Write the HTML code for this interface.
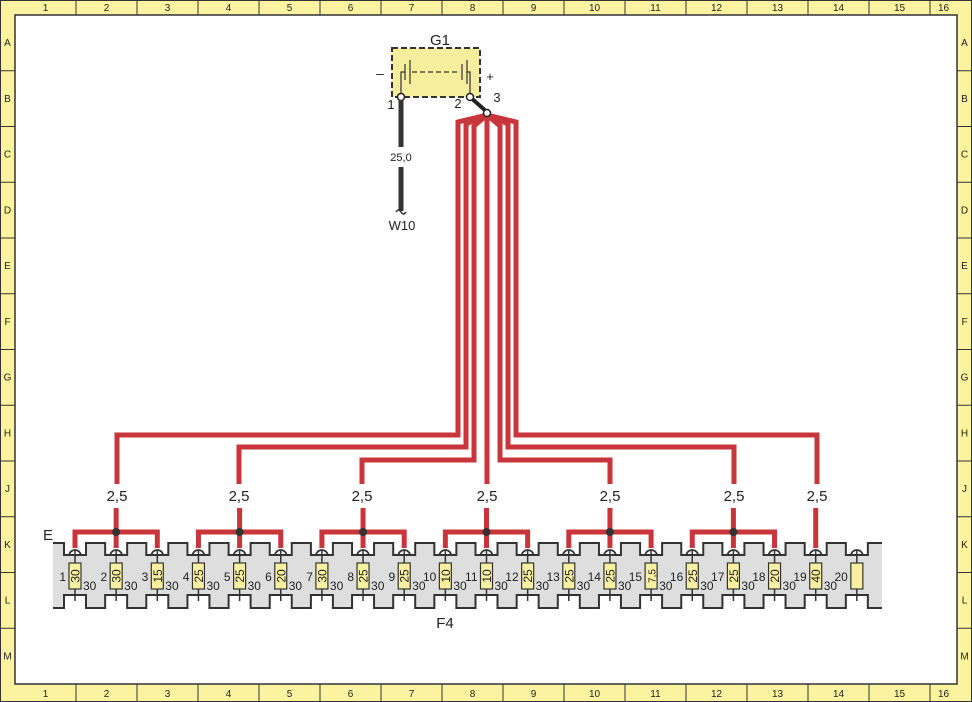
<!DOCTYPE html>
<html><head><meta charset="utf-8"><style>
html,body{margin:0;padding:0;background:#fff}
svg{display:block}
text{font-family:"Liberation Sans",sans-serif;fill:#222}
</style></head><body>
<svg id="s" width="972" height="702" viewBox="0 0 972 702" xmlns="http://www.w3.org/2000/svg">
<rect x="0.5" y="0.5" width="971" height="701" fill="#fbf3a0" stroke="#333"/>
<rect x="15" y="15" width="942" height="669" fill="#fff" stroke="#333" stroke-width="1.5"/>
<g id="frame"></g>
<rect x="392" y="48" width="88" height="49" fill="#f6ee9c" stroke="#333" stroke-width="2" stroke-dasharray="6,3"/>
<text x="440" y="45" font-size="15" text-anchor="middle">G1</text>
<text x="380" y="78" font-size="14" text-anchor="middle">–</text>
<text x="490" y="81" font-size="13" text-anchor="middle">+</text>
<g stroke="#333" stroke-width="1.2" fill="none">
<path d="M401 96 V72 H405 M405 64 V80 M410 60 V84 M462 64 V80"/>
<path d="M467 60 V84 M467 72 H470 V96"/>
</g>
<line x1="412" y1="72" x2="460" y2="72" stroke="#333" stroke-width="1.2" stroke-dasharray="5,3"/>
<g id="wires" stroke="#c8353b" stroke-width="5" fill="none" stroke-linejoin="miter"></g>
<line x1="470" y1="97" x2="487" y2="112" stroke="#222" stroke-width="4"/>
<circle cx="401" cy="97" r="3.5" fill="#fff" stroke="#222" stroke-width="1.5"/>
<circle cx="470" cy="97" r="3.5" fill="#fff" stroke="#222" stroke-width="1.5"/>
<circle cx="487" cy="113" r="3.5" fill="#fff" stroke="#222" stroke-width="1.5"/>
<text x="391" y="109" font-size="13" text-anchor="middle">1</text>
<text x="458" y="108" font-size="13" text-anchor="middle">2</text>
<text x="497" y="102" font-size="13" text-anchor="middle">3</text>
<path d="M401 100 V147 M401 167 V211" stroke="#333" stroke-width="5"/>
<path d="M396 212 q2.5 -4 5 0 q2.5 4 5 0" stroke="#333" stroke-width="1.5" fill="none"/>
<text x="401" y="161" font-size="11" text-anchor="middle">25,0</text>
<text x="402" y="230" font-size="13" text-anchor="middle">W10</text>
<g id="fb"></g>
<text x="48" y="540" font-size="15" text-anchor="middle">E</text>
<text x="445" y="628" font-size="15" text-anchor="middle">F4</text>
</svg>
<script>
var NS="http://www.w3.org/2000/svg";
function el(p,t,a,txt){var e=document.createElementNS(NS,t);for(var k in a)e.setAttribute(k,a[k]);if(txt!==undefined)e.textContent=txt;p.appendChild(e);return e;}
var fr=document.getElementById('frame');
for(var k=0;k<16;k++){var x=15+k*61;
 if(k>0){el(fr,'line',{x1:x,y1:0,x2:x,y2:15,stroke:'#333'});el(fr,'line',{x1:x,y1:684,x2:x,y2:702,stroke:'#333'});}
 var cx=k<15?x+30.5:(x+957)/2;
 el(fr,'text',{x:cx,y:11,'font-size':10,'text-anchor':'middle'},k+1);
 el(fr,'text',{x:cx,y:697,'font-size':10,'text-anchor':'middle'},k+1);}
var rows="ABCDEFGHJKLM";
for(var r=0;r<12;r++){var y=15+r*55.75;
 if(r>0){el(fr,'line',{x1:0,y1:y,x2:15,y2:y,stroke:'#333'});el(fr,'line',{x1:957,y1:y,x2:972,y2:y,stroke:'#333'});}
 el(fr,'text',{x:7.5,y:y+31,'font-size':10,'text-anchor':'middle'},rows[r]);
 el(fr,'text',{x:964.5,y:y+31,'font-size':10,'text-anchor':'middle'},rows[r]);}
var w=document.getElementById('wires');
var W=[[458,435,117,122],[466,447,239,124],[474,460,362,126],[487,484,487,128],[500,460,610,126],[508,447,734,124],[516,435,817,122]];
W.forEach(function(a){var xs=a[0],yh=a[1],xt=a[2],yt=a[3];
 var d="M487 115 L"+xs+" "+yt+" V"+yh;
 if(xt!=xs) d+=" H"+xt+" V484";
 el(w,'path',{d:d});});
var fb=document.getElementById('fb');
var fx=[];for(var i=0;i<20;i++)fx.push(75+i*41.15);
var d="M53 543";
for(var i=0;i<20;i++){var c=fx[i];d+=" H"+(c-11)+" V555 H"+(c+11)+" V543";}
d+=" H882 V608";
for(var i=19;i>=0;i--){var c=fx[i];d+=" H"+(c+11)+" V595 H"+(c-11)+" V608";}
d+=" H53 Z";
el(fb,'path',{d:d,fill:'#dedede',stroke:'none'});
var dt="M53 543";for(var i=0;i<20;i++){var c=fx[i];dt+=" H"+(c-11)+" V555 H"+(c+11)+" V543";}dt+=" H882";
var db="M53 608";for(var i=0;i<20;i++){var c=fx[i];db+=" H"+(c-11)+" V595 H"+(c+11)+" V608";}db+=" H882";
el(fb,'path',{d:dt,fill:'none',stroke:'#333','stroke-width':2});
el(fb,'path',{d:db,fill:'none',stroke:'#333','stroke-width':2});
[117,239,362,487,610,734,817].forEach(function(x){
 el(fb,'rect',{x:x-18,y:484,width:36,height:24,fill:'#fff'});
 el(fb,'text',{x:x,y:501,'font-size':15,'text-anchor':'middle'},'2,5');});
var groups=[[0,2],[3,5],[6,8],[9,11],[12,14],[15,17]];
groups.forEach(function(g){var a=fx[g[0]],b=fx[g[1]],m=fx[g[0]+1];
 el(fb,'path',{d:"M"+a+" 548 V532 H"+b+" V548 M"+m+" 508 V548",stroke:'#c8353b','stroke-width':5,fill:'none'});
 el(fb,'circle',{cx:m,cy:532,r:4,fill:'#333'});});
el(fb,'path',{d:"M"+fx[18]+" 508 V548",stroke:'#c8353b','stroke-width':5,fill:'none'});
var vals=["30","30","15","25","25","20","30","25","25","10","10","25","25","25","7,5","25","25","20","40",""];
for(var i=0;i<20;i++){var c=fx[i];
 el(fb,'path',{d:"M"+(c-6)+" 556 A6 6 0 0 1 "+(c+6)+" 556",fill:'none',stroke:'#333','stroke-width':1.8});
 el(fb,'path',{d:"M"+c+" 551 V563 M"+c+" 589 V601",stroke:'#333','stroke-width':1.5});
 el(fb,'rect',{x:c-6,y:563,width:12,height:26,fill:'#f8f0a0',stroke:'#333','stroke-width':1.2});
 if(vals[i]) el(fb,'text',{x:0,y:0,'font-size':vals[i].length>2?10:12,'text-anchor':'middle',transform:"translate("+(c+4.5)+" 576) rotate(-90)"},vals[i]);
 el(fb,'text',{x:c-9,y:581,'font-size':12,'text-anchor':'end'},i+1);
 if(i<19) el(fb,'text',{x:c+8,y:590,'font-size':12},'30');}
</script>
</body></html>
